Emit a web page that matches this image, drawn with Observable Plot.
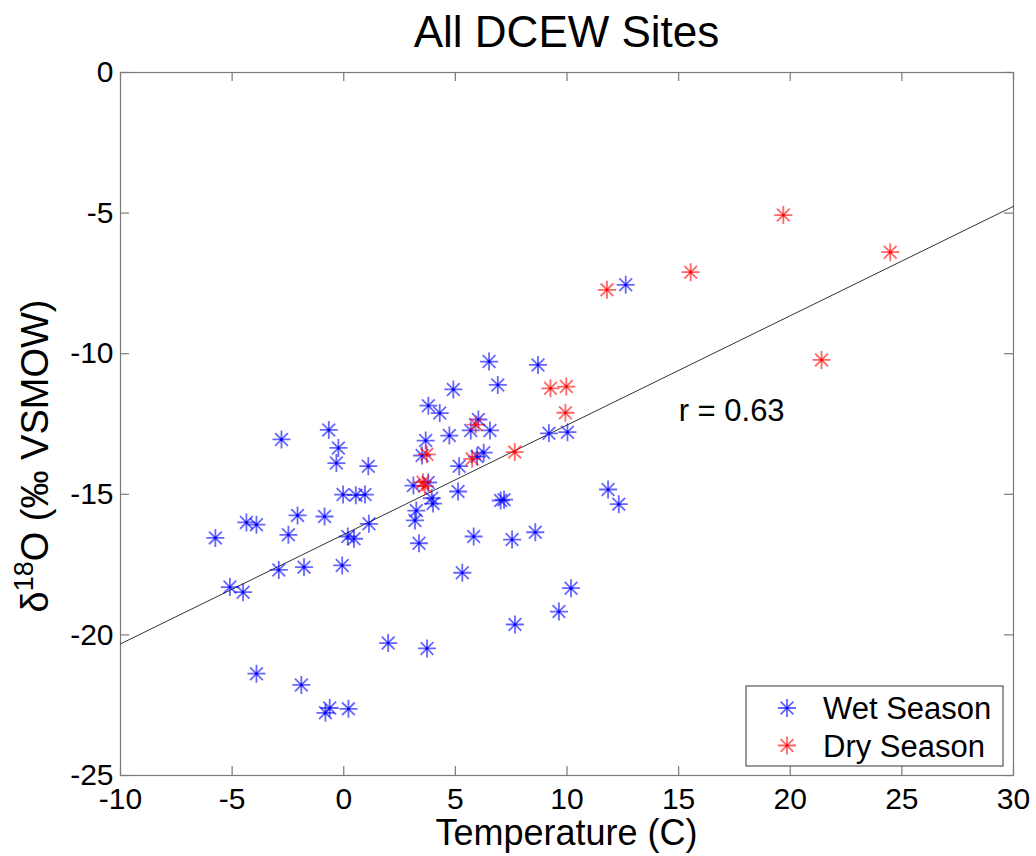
<!DOCTYPE html>
<html><head><meta charset="utf-8">
<script src="https://cdn.jsdelivr.net/npm/d3@7"></script>
<script src="https://cdn.jsdelivr.net/npm/@observablehq/plot@0.6"></script>
<style>body{margin:0;background:#fff} svg{display:block}</style>
</head><body><div id="chart"></div>
<script>
// ---- data ----
const wetTemp = [-5.75,-5.10,-4.51,-4.36,-3.91,-3.91,-2.91,-2.79,-2.48,-2.07,-1.90,-1.78,-0.86,-0.82,-0.67,-0.63,-0.33,-0.24,-0.07,-0.03,0.18,0.21,0.46,0.54,0.95,1.10,1.13,1.99,3.12,3.19,3.25,3.37,3.51,3.67,3.73,3.78,3.79,3.94,4.00,4.30,4.73,4.91,5.12,5.17,5.31,5.69,5.82,5.97,6.03,6.27,6.51,6.55,6.90,7.03,7.18,7.54,7.67,8.58,8.70,9.19,9.64,10.02,10.18,11.84,12.32,12.63];
const wetD18O = [-16.55,-18.30,-18.48,-16.00,-16.08,-21.38,-17.69,-13.05,-16.44,-15.75,-21.78,-17.59,-15.79,-22.77,-12.71,-22.60,-13.89,-13.35,-17.53,-15.01,-16.50,-22.63,-16.58,-15.03,-15.01,-14.00,-16.05,-20.29,-14.69,-15.93,-15.58,-16.74,-13.62,-13.09,-20.48,-14.58,-11.85,-15.14,-15.33,-12.11,-12.91,-11.27,-14.90,-14.00,-17.79,-12.73,-16.50,-13.66,-12.34,-13.52,-10.28,-12.73,-11.11,-15.22,-15.19,-16.61,-19.63,-16.35,-10.40,-12.83,-19.17,-12.79,-18.34,-14.83,-15.35,-7.55];
const dryTemp = [3.55,3.63,3.72,5.75,5.91,7.66,9.26,9.93,9.97,11.79,15.54,19.69,21.40,24.48];
const dryD18O = [-14.57,-14.71,-13.58,-13.74,-12.52,-13.50,-11.23,-12.10,-11.17,-7.73,-7.10,-5.07,-10.22,-6.39];
const seriesNames = ["Wet Season", "Dry Season"];
const xTicks = [-10,-5,0,5,10,15,20,25,30];
const yTicks = [-25,-20,-15,-10,-5,0];
const fitSlope = 0.389, fitIntercept = -16.43;
const rLabel = "r = 0.63";
const rLabelX = [15], rLabelY = [-12.05];
const titleText = "All DCEW Sites";
const xLabelText = "Temperature (C)";

// ---- styling ----
const W = 1036, H = 856, mL = 120, mR = 23, mT = 72, mB = 81;
const frameW = W - mL - mR, frameH = H - mT - mB, tickLen = 9;
const FONT = "'Liberation Sans', Arial, Helvetica, sans-serif";
const BLUE = "#0000ff", RED = "#ff0000", AXIS = "#7a7a7a";

const asterisk8 = {
  draw(ctx, size) {
    const r = Math.sqrt(size / Math.PI), d = r * Math.SQRT1_2;
    ctx.moveTo(-r, 0); ctx.lineTo(r, 0);
    ctx.moveTo(0, -r); ctx.lineTo(0, r);
    ctx.moveTo(-d, -d); ctx.lineTo(d, d);
    ctx.moveTo(-d, d); ctx.lineTo(d, -d);
  }
};

const wet = wetTemp.map((t, i) => ({t, d: wetD18O[i]}));
const dry = dryTemp.map((t, i) => ({t, d: dryD18O[i]}));
const fitLine = [xTicks[0], xTicks[xTicks.length - 1]].map(x => ({x, y: fitIntercept + fitSlope * x}));
const rPos = rLabelX.map((x, i) => ({x, y: rLabelY[i], text: rLabel}));

const starMarks = (data, color) => [
  Plot.dot(data, {x: "t", y: "d", symbol: asterisk8, r: 9, fill: "none", stroke: color, strokeOpacity: 0.6, strokeWidth: 1.8}),
  Plot.dot(data, {x: "t", y: "d", r: 1.6, fill: color, stroke: "none"})
];

const plot = Plot.plot({
  width: W, height: H, marginLeft: mL, marginRight: mR, marginTop: mT, marginBottom: mB,
  style: {fontFamily: FONT, fontSize: "30px", color: "#000", background: "#fff", overflow: "visible"},
  x: {domain: [xTicks[0], xTicks[xTicks.length - 1]], label: null},
  y: {domain: [yTicks[0], yTicks[yTicks.length - 1]], label: null},
  marks: [
    Plot.frame({stroke: AXIS, strokeWidth: 1.2}),
    Plot.tickX(xTicks, {x: d => d, insetTop: frameH - tickLen, stroke: AXIS, strokeWidth: 1.2}),
    Plot.tickX(xTicks, {x: d => d, insetBottom: frameH - tickLen, stroke: AXIS, strokeWidth: 1.2}),
    Plot.tickY(yTicks, {y: d => d, insetRight: frameW - tickLen, stroke: AXIS, strokeWidth: 1.2}),
    Plot.tickY(yTicks, {y: d => d, insetLeft: frameW - tickLen, stroke: AXIS, strokeWidth: 1.2}),
    Plot.axisX(xTicks, {tickSize: 0, tickPadding: 12, tickFormat: d => String(d), fill: "#000"}),
    Plot.axisY(yTicks, {tickSize: 0, tickPadding: 7, tickFormat: d => String(d), fill: "#000"}),
    Plot.line(fitLine, {x: "x", y: "y", stroke: "#333", strokeWidth: 1}),
    ...starMarks(wet, BLUE),
    ...starMarks(dry, RED),
    Plot.text(rPos, {x: "x", y: "y", text: "text", textAnchor: "start", fontSize: 31, fill: "#000"})
  ]
});

const svg = d3.select(plot);
// title
svg.append("text").attr("x", mL + frameW / 2).attr("y", 47).attr("text-anchor", "middle")
  .attr("font-size", 44).attr("font-family", FONT).attr("fill", "#000").text(titleText);
// x label
svg.append("text").attr("x", mL + frameW / 2).attr("y", 845).attr("text-anchor", "middle")
  .attr("font-size", 36).attr("font-family", FONT).attr("fill", "#000").text(xLabelText);
// y label with superscript
const yl = svg.append("text").attr("transform", "translate(48,456) rotate(-90)")
  .attr("text-anchor", "middle").attr("font-size", 38).attr("font-family", FONT).attr("fill", "#000");
yl.append("tspan").text("δ");
yl.append("tspan").attr("font-size", 27).attr("dy", -15).text("18");
yl.append("tspan").attr("dy", 15).text("O (‰ VSMOW)");

// legend
const lg = svg.append("g").attr("font-family", FONT).attr("font-size", 31).attr("text-anchor", "start");
lg.append("rect").attr("x", 746).attr("y", 686).attr("width", 257).attr("height", 80)
  .attr("fill", "#fff").attr("stroke", "#555").attr("stroke-width", 1.2);
const legendColors = [BLUE, RED];
const symPath = d3.symbol(asterisk8, 81 * Math.PI)();
seriesNames.forEach((name, i) => {
  const cy = 708 + i * 37.5;
  lg.append("path").attr("d", symPath).attr("transform", `translate(787,${cy})`)
    .attr("fill", "none").attr("stroke", legendColors[i]).attr("stroke-opacity", 0.6).attr("stroke-width", 1.8);
  lg.append("circle").attr("cx", 787).attr("cy", cy).attr("r", 1.6).attr("fill", legendColors[i]);
  lg.append("text").attr("x", 823).attr("y", cy + 11).attr("text-anchor", "start").attr("fill", "#000").text(name);
});

document.getElementById("chart").appendChild(plot);
</script>
</body></html>
